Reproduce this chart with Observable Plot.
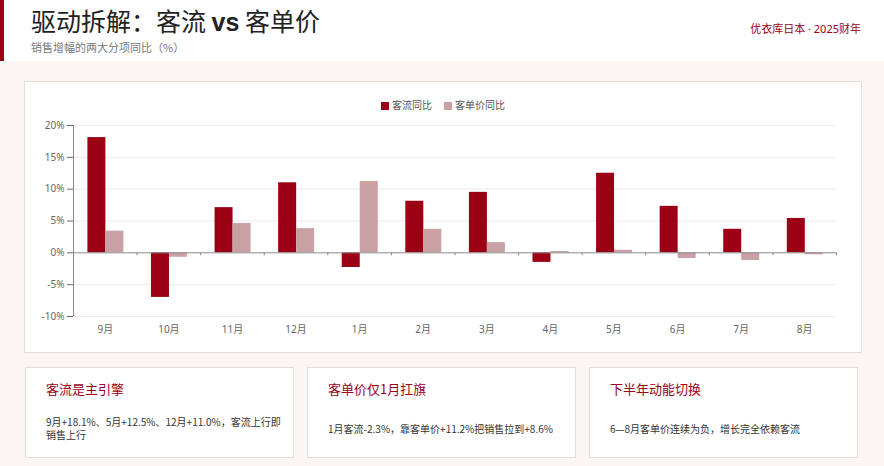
<!DOCTYPE html>
<html>
<head>
<meta charset="utf-8">
<script src="https://cdn.jsdelivr.net/npm/d3@7"></script>
<script src="https://cdn.jsdelivr.net/npm/@observablehq/plot@0.6"></script>
<style>
  html, body { margin: 0; padding: 0; }
  body { width: 884px; height: 466px; background: #faf6f3; font-family: "Noto Sans CJK SC", "Noto Sans", sans-serif; position: relative; overflow: hidden; }
  .header { position: absolute; left: 0; top: 0; width: 884px; height: 61px; background: #fff; }
  .header .bar { position: absolute; left: 0; top: 0; width: 4px; height: 61px; background: #9c0015; }
  .title { position: absolute; left: 31px; top: 4px; font-size: 25px; line-height: 33px; color: #222; white-space: nowrap; }
  .title b { font-family: "Liberation Sans", Arial, sans-serif; font-weight: 700; }
  .subtitle { position: absolute; left: 31px; top: 39px; font-size: 11px; line-height: 16px; color: #777; white-space: nowrap; }
  .tag { position: absolute; right: 23px; top: 21px; font-size: 11px; line-height: 16px; color: #9c0015; white-space: nowrap; font-family: "Noto Sans", "Noto Sans CJK SC", sans-serif; }
  .chartcard { position: absolute; left: 24px; top: 81px; width: 836px; height: 270px; background: #fff; border: 1px solid #e6dcd8; }
  .legend { position: absolute; left: 0; width: 836px; top: 16px; text-align: center; font-size: 10px; line-height: 14px; color: #555; white-space: nowrap; }
  .legend span.sw { display: inline-block; width: 8px; height: 8px; vertical-align: -0.5px; margin-right: 3px; }
  .legend span.item { margin: 0 6px; }
  #plot { position: absolute; left: 0; top: 33px; }
  .card { position: absolute; top: 367px; width: 267px; height: 89px; background: #fff; border: 1px solid #e6dcd8; }
  .card .ct { position: absolute; left: 20px; top: 11px; font-size: 13px; line-height: 20px; color: #9c0015; white-space: nowrap; }
  .card .cb { position: absolute; left: 20px; right: 12px; top: 32px; height: 56px; display: flex; align-items: center; font-size: 10px; line-height: 13px; color: #333; }
</style>
</head>
<body>
<div class="header"><div class="bar"></div>
  <div class="title">驱动拆解：客流 <b>vs</b> 客单价</div>
  <div class="subtitle">销售增幅的两大分项同比（%）</div>
  <div class="tag">优衣库日本 · 2025财年</div>
</div>
<div class="chartcard">
  <div class="legend" id="legend"></div>
  <div id="plot"></div>
</div>
<div class="card" style="left:25px"><div class="ct">客流是主引擎</div><div class="cb"><div>9月+18.1%、5月+12.5%、12月+11.0%，客流上行即销售上行</div></div></div>
<div class="card" style="left:307px"><div class="ct">客单价仅1月扛旗</div><div class="cb"><div>1月客流-2.3%，靠客单价+11.2%把销售拉到+8.6%</div></div></div>
<div class="card" style="left:589px"><div class="ct">下半年动能切换</div><div class="cb"><div>6—8月客单价连续为负，增长完全依赖客流</div></div></div>
<script>
const months = ["9月","10月","11月","12月","1月","2月","3月","4月","5月","6月","7月","8月"];
const traffic = [18.1, -7.0, 7.1, 11.0, -2.3, 8.1, 9.5, -1.5, 12.5, 7.3, 3.7, 5.4];
const ticket = [3.4, -0.7, 4.6, 3.8, 11.2, 3.7, 1.6, 0.2, 0.4, -0.9, -1.2, -0.3];
const seriesNames = ["客流同比", "客单价同比"];
const seriesColors = ["#9c0015", "#c9a0a4"];
const yTicks = [-10, -5, 0, 5, 10, 15, 20];

const rowsTraffic = months.map((m, i) => ({month: m, value: traffic[i]}));
const rowsTicket = months.map((m, i) => ({month: m, value: ticket[i]}));

const W = 836, ML = 48, MR = 25, MT = 10, MB = 30, H = 231;
const bw = (W - ML - MR) / months.length;
const barW = 18, shift = 0.6;

const legend = document.getElementById("legend");
legend.innerHTML = seriesNames.map((s, i) =>
  `<span class="item"><span class="sw" style="background:${seriesColors[i]}"></span>${s}</span>`).join("");

const plot = Plot.plot({
  width: W, height: H,
  marginLeft: ML, marginRight: MR, marginTop: MT, marginBottom: MB,
  style: {fontSize: "10px", fontFamily: "'Noto Sans', 'Noto Sans CJK SC', sans-serif", color: "#666", background: "transparent"},
  x: {domain: months, paddingInner: 0, paddingOuter: 0, round: false, tickSize: 0, tickPadding: 9, label: null},
  y: {domain: [-10, 20], ticks: yTicks, tickFormat: d => d + "%", tickSize: 6, tickPadding: 3, label: null},
  marks: [
    Plot.ruleY(yTicks.filter(d => d !== 0), {stroke: "#ebebeb"}),
    Plot.barY(rowsTraffic, {x: "month", y: "value", fill: seriesColors[0],
      insetLeft: bw / 2 - barW + shift, insetRight: bw / 2 - shift}),
    Plot.barY(rowsTicket, {x: "month", y: "value", fill: seriesColors[1],
      insetLeft: bw / 2 + shift, insetRight: bw / 2 - barW - shift}),
    Plot.ruleY([0], {stroke: "#8a8a8a"}),
    Plot.ruleX(months, {x: d => d, dx: -bw / 2, y1: 0, y2: 0, insetBottom: -3, stroke: "#8a8a8a"}),
    Plot.ruleX([months[months.length - 1]], {x: d => d, dx: bw / 2, y1: 0, y2: 0, insetBottom: -3, stroke: "#8a8a8a"}),
    Plot.ruleX([months[0]], {x: d => d, dx: -bw / 2, y1: -10, y2: 20, stroke: "#8a8a8a"})
  ]
});
document.getElementById("plot").appendChild(plot);
</script>
</body>
</html>
